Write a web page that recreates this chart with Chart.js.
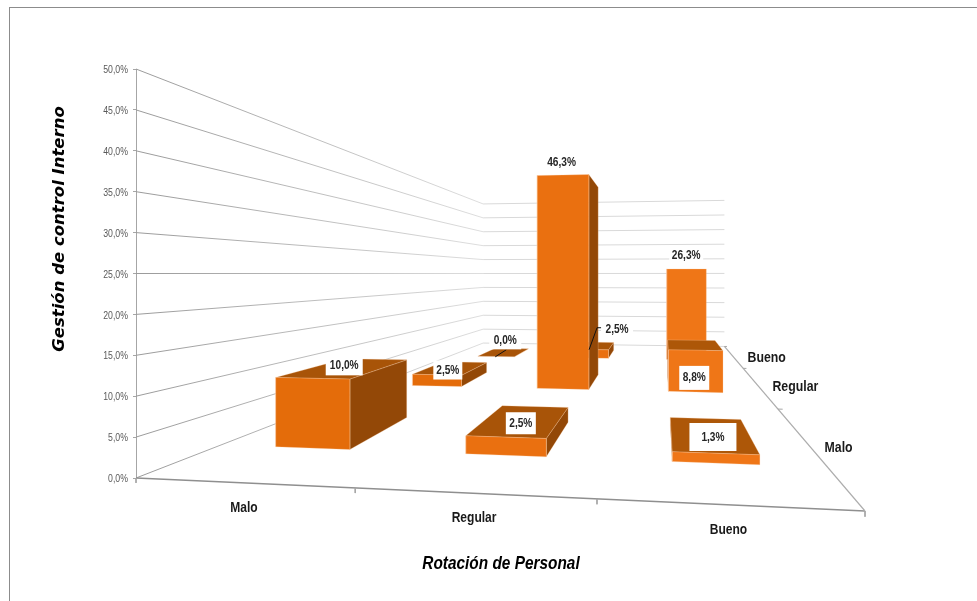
<!DOCTYPE html>
<html>
<head>
<meta charset="utf-8">
<title>Rotación de Personal</title>
<script src="https://cdn.jsdelivr.net/npm/chart.js@4"></script>
<style>
    html, body { margin: 0; background: #fff; overflow: hidden; }
    #wrap { position: relative; width: 977px; height: 601px; }
    #frame { position: absolute; left: 9px; top: 7px; right: -2px; bottom: -2px; border: 1px solid #8c8c8c; }
    canvas { position: absolute; left: 0; top: 0; }
</style>
</head>
<body>
<div id="wrap">
    <canvas id="chart" width="977" height="601"></canvas>
    <div id="frame"></div>
</div>
<script>
const rotationLevels = ["Malo", "Regular", "Bueno"];   // along the front edge
const controlLevels = ["Malo", "Regular", "Bueno"];    // front row to back row
const maloValues = [10.0, 2.5, 0.0];      // Rotación = Malo, per control level
const regularValues = [2.5, 46.3, 2.5];
const buenoValues = [1.3, 8.8, 26.3];
const valueTicks = [0, 5, 10, 15, 20, 25, 30, 35, 40, 45, 50];

const seriesByColumn = [maloValues, regularValues, buenoValues];

// label placement relative to the centre of the bar top: [dx, dy, boxWidth, boxHeight]
const labelPlacement = [
    [[-3, -2, 37, 19], [-4, 2, 29, 19], [1, -12, 32, 18]],
    [[-1, 3, 30, 22], [-8, -19, 34, 18], [24, -16, 32, 18]],
    [[3, 3, 47, 28], [1, 33, 30, 24], [1, -14, 34, 18]]
];

// Colours get a little brighter towards the right of the floor
const frontColors = ["#e46c0a", "#ea7010", "#ef7617"];
const topColors = ["#a85408", "#a85408", "#ad5708"];
const sideColor = "#934807";
const edgeColor = "rgba(250, 205, 170, 0.45)";

const barShare = 0.4;   // bar width as a share of its category slot
const baseFont = "'Liberation Sans', sans-serif";

// Perspective camera. u runs along the front edge, w goes into the depth (both 0..1),
// p is the value in percent. Result is in the units of the x and y scales.
const project = (u, w, p) => {
    const d = 1 - 0.14 * u + 1.94 * w;
    return { x: (0.86 * u + 1.4 * w) / d, y: (p + 48.5 * w - 3.47 * u) / d };
};

const datasets = [];

const addLine = (points, color, width) => {
    datasets.push({
        data: points,
        showLine: true,
        pointRadius: 0,
        borderColor: color,
        borderWidth: width,
        fill: false,
        clip: false,
        order: -datasets.length
    });
};

const addFace = (points, color) => {
    datasets.push({
        data: points.concat([points[0]]),
        showLine: true,
        pointRadius: 0,
        backgroundColor: color,
        borderColor: edgeColor,
        borderWidth: 0.6,
        fill: "shape",
        clip: false,
        order: -datasets.length
    });
};

// Side wall lines fade as they run to the back
const wallGradient = (context) => {
    const { chart } = context;
    if (!chart.chartArea) return "#bbbbbb";
    const xs = chart.scales.x;
    const g = chart.ctx.createLinearGradient(xs.getPixelForValue(0), 0, xs.getPixelForValue(project(0, 1, 0).x), 0);
    g.addColorStop(0, "#9a9a9a");
    g.addColorStop(1, "#dedede");
    return g;
};

// Walls
valueTicks.forEach(p => {
    addLine([project(0, 0, p), project(0, 1, p)], wallGradient, 1);
    addLine([project(0, 1, p), project(1, 1, p)], "#d9d9d9", 1);
});

// Floor edges and their tick marks
addLine([project(0, 0, 0), project(1, 0, 0)], "#8f8f8f", 1.3);
addLine([project(1, 0, 0), project(1, 1, 0)], "#adadad", 1.2);
[0, 1, 2, 3].forEach(i => {
    addLine([project(i / 3, 0, 0), project(i / 3, 0, -0.6)], "#a6a6a6", 1);
    if (i > 0) addLine([project(1, i / 3, 0), project(1.01, i / 3, 0)], "#a6a6a6", 1);
});

// Bars, back row first so nearer ones paint over
const slot = 1 / rotationLevels.length;
for (let row = controlLevels.length - 1; row >= 0; row--) {
    rotationLevels.forEach((_, col) => {
        const value = seriesByColumn[col][row];
        const u0 = (col + 0.5 - barShare / 2) * slot;
        const u1 = (col + 0.5 + barShare / 2) * slot;
        const w0 = (row + 0.5 - barShare / 2) * slot;
        const w1 = (row + 0.5 + barShare / 2) * slot;

        if (project(u1, w1, 0).x > project(u1, w0, 0).x) {
            addFace([project(u1, w0, 0), project(u1, w1, 0), project(u1, w1, value), project(u1, w0, value)], sideColor);
        }
        if (project(u0, w1, 0).x < project(u0, w0, 0).x) {
            addFace([project(u0, w0, 0), project(u0, w1, 0), project(u0, w1, value), project(u0, w0, value)], sideColor);
        }
        // eye level sits at 25%, only lower tops can be seen
        if (project(u0, w1, value).y >= project(u0, w0, value).y) {
            addFace([project(u0, w0, value), project(u1, w0, value), project(u1, w1, value), project(u0, w1, value)], topColors[col]);
        }
        if (value > 0) {
            addFace([project(u0, w0, 0), project(u1, w0, 0), project(u1, w0, value), project(u0, w0, value)], frontColors[col]);
        }
    });
}

const formatPercent = v => v.toFixed(1).replace(".", ",") + "%";

// The source font is a condensed one, so text gets squeezed horizontally
const drawNarrow = (ctx, text, x, y, squeeze) => {
    ctx.save();
    ctx.translate(x, y);
    ctx.scale(squeeze, 1);
    ctx.fillText(text, 0, 0);
    ctx.restore();
};

// Everything the scales do not draw on their own: slanted category text, titles, value labels
const textPlugin = {
    id: "floorText",
    afterDatasetsDraw(chart) {
        const { ctx, scales: { x, y } } = chart;
        const px = pt => ({ x: x.getPixelForValue(pt.x), y: y.getPixelForValue(pt.y) });

        ctx.save();
        ctx.textBaseline = "middle";

        // value axis tick labels
        ctx.textAlign = "right";
        ctx.fillStyle = "#595959";
        ctx.font = "11.5px " + baseFont;
        valueTicks.forEach(v => drawNarrow(ctx, formatPercent(v), x.left - 8, y.getPixelForValue(v) + 1, 0.76));

        // leader lines of the two labels that sit away from their bars
        ctx.strokeStyle = "#111";
        ctx.lineWidth = 1;
        const flatTop = px(project(1 / 6, 5 / 6, 0));
        ctx.beginPath();
        ctx.moveTo(flatTop.x - 9, flatTop.y + 4.5);
        ctx.lineTo(flatTop.x + 2, flatTop.y - 2.5);
        const smallTop = px(project(0.5, 5 / 6, 2.5));
        ctx.moveTo(smallTop.x - 4, smallTop.y + 4);
        ctx.lineTo(smallTop.x + 4, smallTop.y - 18);
        ctx.lineTo(smallTop.x + 9, smallTop.y - 18);
        ctx.stroke();

        // value labels
        ctx.textAlign = "center";
        seriesByColumn.forEach((values, col) => values.forEach((value, row) => {
            const top = px(project((col + 0.5) * slot, (row + 0.5) * slot, value));
            const [dx, dy, w, h] = labelPlacement[col][row];
            const cx = top.x + dx;
            const cy = top.y + dy;
            ctx.fillStyle = "#fff";
            ctx.fillRect(cx - w / 2, cy - h / 2, w, h);
            ctx.fillStyle = "#262626";
            ctx.font = "bold 13px " + baseFont;
            drawNarrow(ctx, formatPercent(value), cx, cy, 0.78);
        }));

        // category names
        ctx.fillStyle = "#1a1a1a";
        ctx.font = "bold 14px " + baseFont;
        rotationLevels.forEach((name, i) => {
            const p = px(project((i + 0.5) * slot, 0, 0));
            drawNarrow(ctx, name, p.x + 1, p.y + 25, 0.86);
        });
        ctx.textAlign = "left";
        controlLevels.forEach((name, i) => {
            const p = px(project(1, (i + 0.5) * slot, 0));
            drawNarrow(ctx, name, p.x + 15, p.y + 2, 0.88);
        });

        // axis titles
        ctx.textAlign = "center";
        ctx.fillStyle = "#000";
        ctx.font = "italic bold 19px " + baseFont;
        drawNarrow(ctx, "Rotación de Personal", 501, 564, 0.81);
        ctx.translate(60, 229);
        ctx.rotate(-Math.PI / 2);
        ctx.font = "italic bold 16.5px 'DejaVu Sans'";
        ctx.fillText("Gestión de control Interno", 0, 0);
        ctx.restore();
    }
};

new Chart(document.getElementById("chart").getContext("2d"), {
    type: "scatter",
    data: { datasets: datasets },
    plugins: [textPlugin],
    options: {
        responsive: false,
        animation: false,
        events: [],
        layout: { padding: { top: 69, bottom: 123, left: 0, right: 112 } },
        plugins: { legend: { display: false }, tooltip: { enabled: false } },
        scales: {
            x: { type: "linear", min: 0, max: 1, display: false },
            y: {
                type: "linear",
                position: "left",
                min: 0,
                max: 50,
                afterFit: scale => { scale.width = 136; },
                afterBuildTicks: scale => { scale.ticks = valueTicks.map(value => ({ value })); },
                border: { color: "#a6a6a6", width: 1 },
                grid: { drawOnChartArea: false, drawTicks: true, tickLength: 3, color: "#a6a6a6" },
                ticks: { display: false }
            }
        }
    }
});
</script>
</body>
</html>
